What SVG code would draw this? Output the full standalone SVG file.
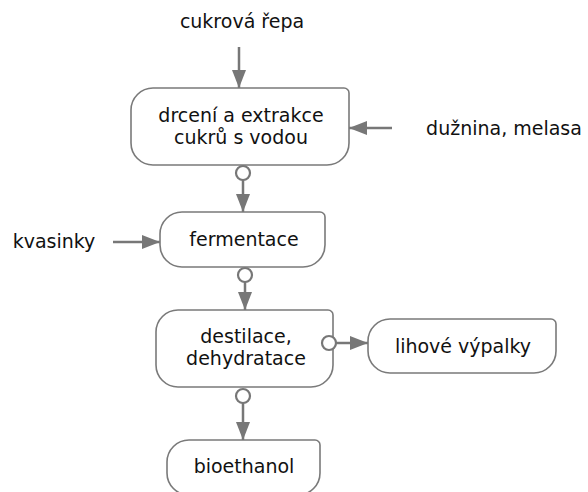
<svg xmlns="http://www.w3.org/2000/svg" width="588" height="492" viewBox="0 0 588 492">
<style>
.n{fill:#fff;stroke:#7a7a7a;stroke-width:1.6}
.t{font-family:"DejaVu Sans",sans-serif;font-size:19px;fill:#111;text-anchor:middle}
.l{fill:none;stroke:#777;stroke-width:2.5}
.c{fill:#fff;stroke:#777;stroke-width:2.2}
</style>
<defs>
<marker id="ah" markerUnits="userSpaceOnUse" markerWidth="18" markerHeight="16" refX="18" refY="8" orient="auto">
<path d="M0,1 L18,8 L0,15 Z" fill="#777"/>
</marker>
</defs>
<rect width="588" height="492" fill="#fff"/>
<g id="connectors">
<line class="l" x1="239" y1="47" x2="239" y2="88" marker-end="url(#ah)"/>
<line class="l" x1="392" y1="128" x2="349" y2="128" marker-end="url(#ah)"/>
<line class="l" x1="113" y1="242" x2="160" y2="242" marker-end="url(#ah)"/>
<line class="l" x1="243" y1="180" x2="243" y2="212" marker-end="url(#ah)"/>
<line class="l" x1="245" y1="282" x2="245" y2="310" marker-end="url(#ah)"/>
<line class="l" x1="336" y1="343" x2="368" y2="343" marker-end="url(#ah)"/>
<line class="l" x1="243" y1="403" x2="243" y2="440" marker-end="url(#ah)"/>
</g>
<g id="n1">
<path class="n" d="M153,88 H344 A5,5 0 0 1 349,93 V143 A22,22 0 0 1 327,165 H153 A22,22 0 0 1 131,143 V110 A22,22 0 0 1 153,88 Z"/>
<text class="t" x="241" y="122">drcení a extrakce</text>
<text class="t" x="241" y="144">cukrů s vodou</text>
</g>
<g id="n2">
<path class="n" d="M182,212 H320 A5,5 0 0 1 325,217 V245 A22,22 0 0 1 303,267 H182 A22,22 0 0 1 160,245 V234 A22,22 0 0 1 182,212 Z"/>
<text class="t" x="244" y="246">fermentace</text>
</g>
<g id="n3">
<path class="n" d="M178,310 H328 A5,5 0 0 1 333,315 V365 A22,22 0 0 1 311,387 H178 A22,22 0 0 1 156,365 V332 A22,22 0 0 1 178,310 Z"/>
<text class="t" x="246" y="343">destilace,</text>
<text class="t" x="246" y="365">dehydratace</text>
</g>
<g id="n4">
<path class="n" d="M390,319 H551 A5,5 0 0 1 556,324 V351 A22,22 0 0 1 534,373 H390 A22,22 0 0 1 368,351 V341 A22,22 0 0 1 390,319 Z"/>
<text class="t" x="463" y="353">lihové výpalky</text>
</g>
<g id="n5">
<path class="n" d="M189,440 H315 A5,5 0 0 1 320,445 V473 A22,22 0 0 1 298,495 H189 A22,22 0 0 1 167,473 V462 A22,22 0 0 1 189,440 Z"/>
<text class="t" x="244" y="473">bioethanol</text>
</g>
<g id="ports">
<circle class="c" cx="243" cy="173" r="7"/>
<circle class="c" cx="245" cy="275" r="7"/>
<circle class="c" cx="329" cy="343" r="7"/>
<circle class="c" cx="243" cy="396" r="7"/>
</g>
<g id="labels">
<text class="t" x="242" y="28">cukrová řepa</text>
<text class="t" x="504" y="135">dužnina, melasa</text>
<text class="t" x="54" y="248">kvasinky</text>
</g>
</svg>
